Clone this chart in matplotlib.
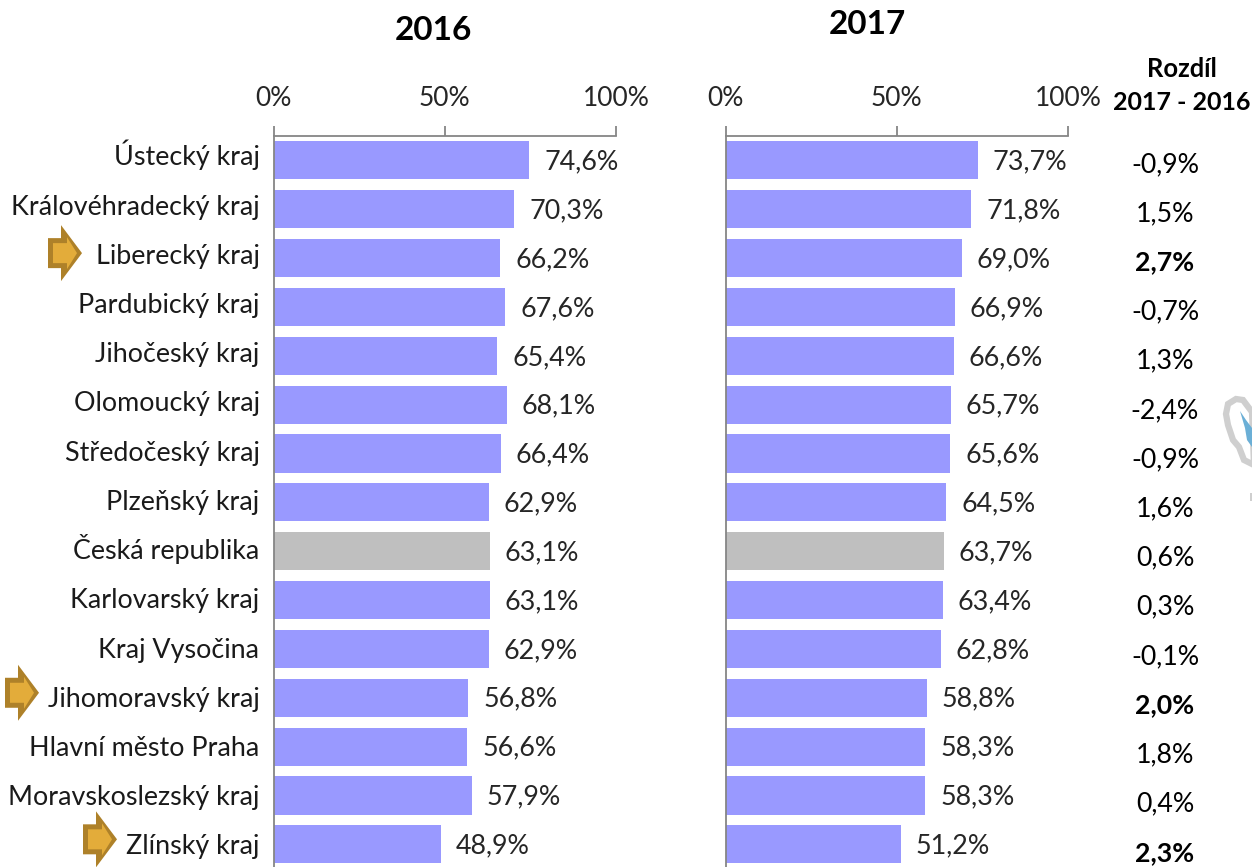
import matplotlib
matplotlib.use("Agg")
import matplotlib.pyplot as plt
from matplotlib.patches import Polygon
from matplotlib.transforms import Affine2D

W, H = 1252, 867
plt.rcParams['font.family'] = ['Lato', 'DejaVu Sans']

categories = ["Ústecký kraj", "Královéhradecký kraj", "Liberecký kraj", "Pardubický kraj",
              "Jihočeský kraj", "Olomoucký kraj", "Středočeský kraj", "Plzeňský kraj",
              "Česká republika", "Karlovarský kraj", "Kraj Vysočina", "Jihomoravský kraj",
              "Hlavní město Praha", "Moravskoslezský kraj", "Zlínský kraj"]
values_2016 = [74.6, 70.3, 66.2, 67.6, 65.4, 68.1, 66.4, 62.9, 63.1, 63.1, 62.9, 56.8, 56.6, 57.9, 48.9]
values_2017 = [73.7, 71.8, 69.0, 66.9, 66.6, 65.7, 65.6, 64.5, 63.7, 63.4, 62.8, 58.8, 58.3, 58.3, 51.2]
differences = ["-0,9%", "1,5%", "2,7%", "-0,7%", "1,3%", "-2,4%", "-0,9%", "1,6%",
               "0,6%", "0,3%", "-0,1%", "2,0%", "1,8%", "0,4%", "2,3%"]
bold_rows = [2, 11, 14]
highlighted = {"Liberecký kraj": 48, "Jihomoravský kraj": 5, "Zlínský kraj": 83}
national = "Česká republika"
ticks = [0, 50, 100]
tick_labels = ["0%", "50%", "100%"]

BAR = "#9999FF"
GREY = "#BFBFBF"
TEXT = "#262626"
AXC = "#868686"

fig = plt.figure(figsize=(W / 100, H / 100), dpi=100)
top, row = 136.0, 48.85
n = len(categories)
bottom = top + n * row


def make_axes(x0, x1):
    ax = fig.add_axes([x0 / W, 1 - bottom / H, (x1 - x0) / W, (bottom - top) / H])
    ax.set_xlim(0, 100)
    ax.set_ylim(n - 0.5, -0.5)
    ax.xaxis.tick_top()
    ax.set_xticks(ticks, tick_labels, fontsize=19, color=TEXT)
    ax.tick_params(axis='x', length=7, width=1.3, color=AXC, pad=11)
    ax.set_yticks([])
    for s in ('right', 'bottom'):
        ax.spines[s].set_visible(False)
    for s in ('left', 'top'):
        ax.spines[s].set_color(AXC)
        ax.spines[s].set_linewidth(1.3)
    return ax


def draw(ax, values):
    colors = [GREY if c == national else BAR for c in categories]
    ax.barh(range(n), values, height=0.78, color=colors, zorder=1)
    for i, v in enumerate(values):
        ax.annotate(f"{v:.1f}%".replace(".", ","), (v, i), xytext=(15, -9),
                    textcoords='offset pixels', va='baseline', ha='left',
                    fontsize=19.4, color=TEXT)


ax1 = make_axes(273.5, 616)
ax2 = make_axes(725.5, 1068)
draw(ax1, values_2016)
draw(ax2, values_2017)

# category names, right-aligned left of the first axis
for i, c in enumerate(categories):
    ax1.annotate(c, (0, i), xytext=(-14, -5 - i * 0.36), textcoords='offset pixels', ha='right',
                 va='baseline', fontsize=19.4, color='#1a1a1a')

# difference column
for i, d in enumerate(differences):
    ax2.annotate(d, (100, i), xytext=(97, -11.5 - i * 0.35), textcoords='offset pixels', ha='center',
                 va='baseline', fontsize=19.3, color='black',
                 fontweight='bold' if i in bold_rows else 'normal')

fig.text(433 / W, 1 - 31 / H, "2016", fontsize=24, fontweight='bold', ha='center', va='center', color='black')
fig.text(867 / W, 1 - 24 / H, "2017", fontsize=24, fontweight='bold', ha='center', va='center', color='black')
fig.text(1182 / W, 1 - 69 / H, "Rozdíl", fontsize=18.4, fontweight='bold', ha='center', va='center', color='black')
fig.text(1182 / W, 1 - 102 / H, "2017 - 2016", fontsize=18, fontweight='bold', ha='center', va='center', color='black')

# pointer arrows beside highlighted regions (pixel transform: y down from the top)
px = Affine2D().scale(1, -1).translate(0, H)
shape = [(0, 13), (13, 13), (13, 0), (34, 28), (13, 56), (13, 43), (0, 43)]
inner = [(5, 18), (19, 18), (19, 12), (29, 28), (19, 44), (19, 38), (5, 38)]
for c, x in highlighted.items():
    i = categories.index(c)
    yc = top + (i + 0.5) * row - 5
    fig.add_artist(Polygon([(x + a, yc - 28 + b) for a, b in shape], closed=True, transform=px,
                           facecolor='#AE8129', edgecolor='none'))
    fig.add_artist(Polygon([(x + a, yc - 28 + b) for a, b in inner], closed=True, transform=px,
                           facecolor='#E3AC3A', edgecolor='none'))

# fragment of the map at the right edge
fig.add_artist(Polygon([(1228, 404), (1236, 399), (1243, 400), (1252, 412), (1254, 465), (1244, 460), (1239, 447),
                        (1233, 440), (1228, 425), (1226, 414)], closed=True, transform=px,
                       facecolor='white', edgecolor='#CFCFCF', linewidth=4.5))
fig.add_artist(Polygon([(1240, 411), (1246, 420), (1252, 428), (1252, 447), (1247, 440), (1245, 428)],
                       closed=True, transform=px, facecolor='#6BAFD6', edgecolor='none'))
fig.add_artist(Polygon([(1250, 493), (1252, 493), (1252, 501), (1250, 501)], closed=True, transform=px,
                       facecolor='#CFCFCF', edgecolor='none'))

fig.savefig("out.png", dpi=100)
